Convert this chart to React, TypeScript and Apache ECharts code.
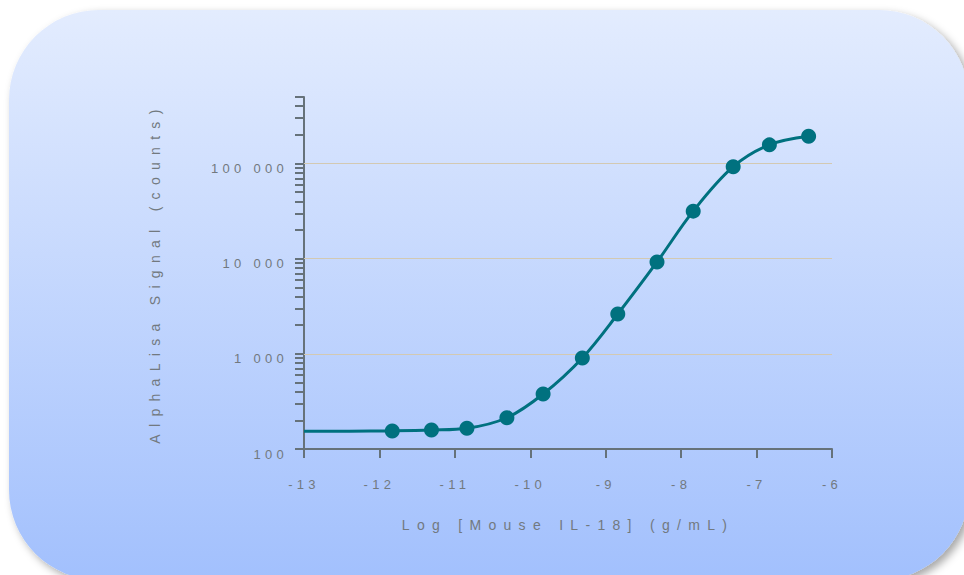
import React, { useEffect, useRef } from "react";
import * as echarts from "echarts";

// Measured data (log10 concentration, g/mL) and AlphaLisa signal (counts)
const concLog = [-11.83, -11.31, -10.84, -10.31, -9.83, -9.31, -8.84, -8.32, -7.84, -7.31, -6.83, -6.31];
const signal = [155, 158, 165, 213, 378, 905, 2620, 9230, 31600, 92600, 157000, 193000];

// Fitted curve
const fitX = [-13, -12.4, -11.83, -11.31, -10.84, -10.31, -9.83, -9.31, -8.84, -8.32, -7.84, -7.31, -6.83, -6.31];
const fitY = [154, 154, 155, 158, 165, 213, 378, 905, 2620, 9230, 31600, 92600, 157000, 193000];

// Axes
const xMin = -13;
const xMax = -6;
const yMinCount = 100;
const yMaxCount = 500000;
const yLabelCounts = [100, 1000, 10000, 100000];
const yTickCounts = [
  100, 200, 300, 400, 500, 600, 700, 800, 900,
  1000, 2000, 3000, 4000, 5000, 6000, 7000, 8000, 9000,
  10000, 20000, 30000, 40000, 50000, 60000, 70000, 80000, 90000,
  100000, 200000, 300000, 400000, 500000,
];
const gridCounts = [1000, 10000, 100000];

const xTitle = "Log [Mouse IL-18] (g/mL)";
const yTitle = "AlphaLisa Signal (counts)";

const FONT = "'Liberation Sans', Arial, Helvetica, sans-serif";
const TEAL = "#00717f";
const AXIS = "#66727a";
const TEXT = "#72797f";

function groupDigits(n: number): string {
  return String(n).replace(/\B(?=(\d{3})+(?!\d))/g, " ");
}

export default function App() {
  const ref = useRef<HTMLDivElement>(null);

  useEffect(() => {
    if (!ref.current) return;
    const chart = echarts.init(ref.current, null, { renderer: "svg" });
    const lg = (v: number) => Math.log10(v);

    chart.setOption({
      animation: false,
      textStyle: { fontFamily: FONT },
      graphic: [
        {
          type: "rect",
          z: -10,
          silent: true,
          shape: { x: 9, y: 10, width: 960, height: 570, r: 90 },
          style: {
            fill: new echarts.graphic.LinearGradient(0, 0, 0, 1, [
              { offset: 0, color: "#e3ecfe" },
              { offset: 1, color: "#a2c0fd" },
            ]),
            shadowBlur: 8,
            shadowOffsetX: 4,
            shadowOffsetY: 4,
            shadowColor: "rgba(0,0,0,0.35)",
          },
        },
      ],
      grid: { left: 304, right: 132, top: 97, bottom: 126, containLabel: false },
      xAxis: {
        type: "value",
        min: xMin,
        max: xMax,
        interval: 1,
        name: xTitle,
        nameLocation: "middle",
        nameGap: 69,
        nameTextStyle: { color: TEXT, fontSize: 14, fontFamily: FONT },
        axisLine: { show: true, onZero: false, lineStyle: { color: AXIS, width: 2 } },
        axisTick: { show: true, inside: false, length: 9, lineStyle: { color: AXIS, width: 2 } },
        axisLabel: { color: TEXT, fontSize: 13, margin: 29, fontFamily: FONT },
        splitLine: { show: false },
      },
      yAxis: {
        type: "value",
        min: lg(yMinCount),
        max: lg(yMaxCount),
        name: yTitle,
        nameLocation: "middle",
        nameRotate: 90,
        nameGap: 142,
        nameTextStyle: { color: TEXT, fontSize: 14, fontFamily: FONT },
        axisLine: { show: true, lineStyle: { color: AXIS, width: 2 } },
        axisTick: {
          show: true,
          inside: false,
          length: 9,
          customValues: yTickCounts.map(lg),
          lineStyle: { color: AXIS, width: 2 },
        },
        axisLabel: {
          color: TEXT,
          fontSize: 13,
          margin: 16,
          fontFamily: FONT,
          verticalAlign: "top",
          lineHeight: 10,
          customValues: yLabelCounts.map(lg),
          formatter: (v: number) => groupDigits(Math.round(Math.pow(10, v))),
        },
        splitLine: { show: false },
      },
      series: [
        {
          type: "line",
          name: "fit",
          data: fitX.map((x, i) => [x, lg(fitY[i])]),
          smooth: 0.35,
          showSymbol: false,
          symbol: "none",
          lineStyle: { color: TEAL, width: 3 },
          silent: true,
          z: 3,
          markLine: {
            silent: true,
            symbol: "none",
            label: { show: false },
            lineStyle: { color: "#d3c9b2", width: 1, type: "solid" },
            data: gridCounts.map((c) => ({ yAxis: lg(c) })),
            z: 1,
          },
        },
        {
          type: "scatter",
          name: "data",
          data: concLog.map((x, i) => [x, lg(signal[i])]),
          symbol: "circle",
          symbolSize: 15,
          itemStyle: { color: TEAL, opacity: 1 },
          z: 4,
        },
      ],
    });

    return () => chart.dispose();
  }, []);

  return (
    <>
      <style>{`
        .ck text { letter-spacing: 4.3px; }
        .ck text[style*="14px"] { letter-spacing: 7.3px; }
      `}</style>
      <div
        ref={ref}
        className="ck"
        style={{ position: "fixed", left: 0, top: 0, width: 964, height: 575, background: "#ffffff" }}
      />
    </>
  );
}
